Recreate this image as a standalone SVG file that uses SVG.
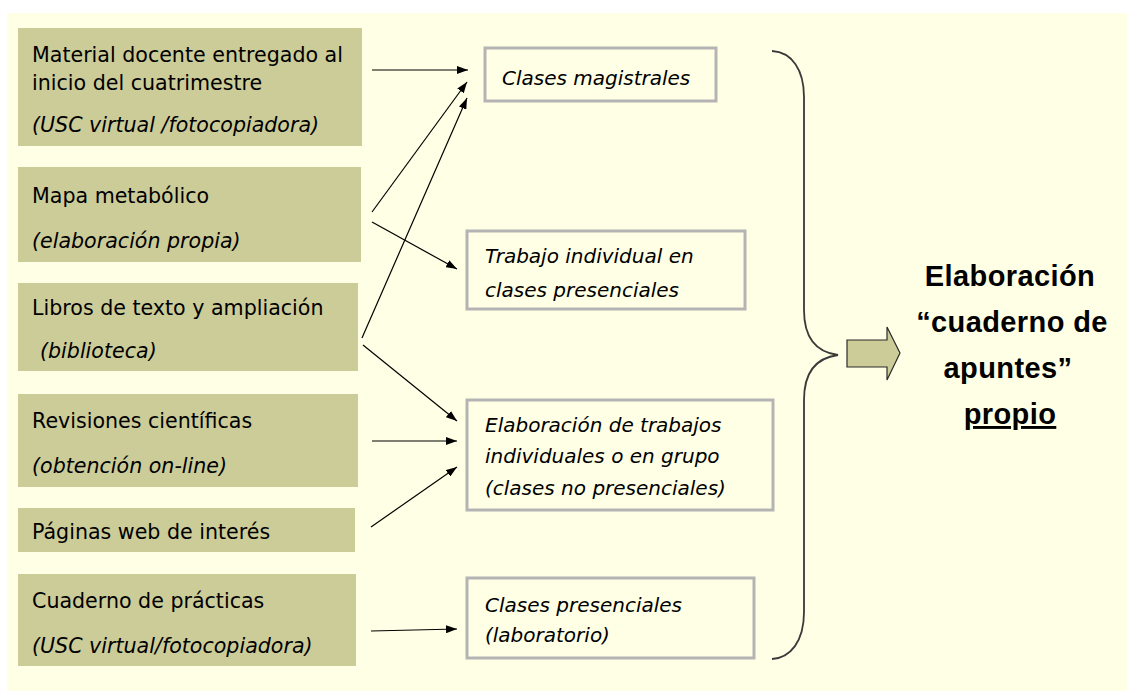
<svg xmlns="http://www.w3.org/2000/svg" width="1127" height="691" viewBox="0 0 1127 691">
<defs>
<style>
.src{fill:#CCCC99}
.dst{fill:#FFFFE5;stroke:#B4B4B4;stroke-width:3}
.t{font-family:"DejaVu Sans",Verdana,sans-serif;font-size:20px;fill:#000}
.l{font-size:20.6px}
.i{font-style:italic}
.big{font-family:"Liberation Sans",Arial,sans-serif;font-size:29px;font-weight:bold;fill:#000;text-anchor:middle;letter-spacing:0.4px}
.c{stroke:#000;stroke-width:1.2;fill:none;marker-end:url(#ah)}
</style>
<marker id="ah" markerUnits="userSpaceOnUse" markerWidth="11" markerHeight="8" refX="11" refY="4" orient="auto">
<path d="M0,0 L11,4 L0,8 z" fill="#000"/>
</marker>
</defs>
<rect x="0" y="0" width="1127" height="691" fill="#FFFFFF"/>
<rect x="7" y="13" width="1120" height="678" fill="#FFFFE5"/>

<g id="n-material">
<rect class="src" x="18" y="28" width="344" height="118"/>
<text class="t l" x="32" y="62">Material docente entregado al</text>
<text class="t l" x="32" y="90">inicio del cuatrimestre</text>
<text class="t l i" x="32" y="132">(USC virtual /fotocopiadora)</text>
</g>
<g id="n-mapa">
<rect class="src" x="18" y="167" width="343" height="95"/>
<text class="t l" x="32" y="203">Mapa metabólico</text>
<text class="t l i" x="32" y="248">(elaboración propia)</text>
</g>
<g id="n-libros">
<rect class="src" x="18" y="283" width="340" height="88"/>
<text class="t l" x="32" y="315">Libros de texto y ampliación</text>
<text class="t l i" x="40" y="358">(biblioteca)</text>
</g>
<g id="n-revisiones">
<rect class="src" x="18" y="394" width="340" height="93"/>
<text class="t l" x="32" y="428">Revisiones científicas</text>
<text class="t l i" x="32" y="473">(obtención on-line)</text>
</g>
<g id="n-paginas">
<rect class="src" x="18" y="508" width="337" height="44"/>
<text class="t l" x="32" y="539">Páginas web de interés</text>
</g>
<g id="n-cuaderno">
<rect class="src" x="18" y="574" width="338" height="92"/>
<text class="t l" x="32" y="608">Cuaderno de prácticas</text>
<text class="t l i" x="32" y="653">(USC virtual/fotocopiadora)</text>
</g>

<g id="n-magistrales">
<rect class="dst" x="485" y="48" width="231" height="53"/>
<text class="t i" x="502" y="85">Clases magistrales</text>
</g>
<g id="n-trabajo">
<rect class="dst" x="467" y="231" width="278" height="78"/>
<text class="t i" x="485" y="263">Trabajo individual en</text>
<text class="t i" x="485" y="297">clases presenciales</text>
</g>
<g id="n-elaboracion">
<rect class="dst" x="467" y="400" width="306" height="110"/>
<text class="t i" x="485" y="432">Elaboración de trabajos</text>
<text class="t i" x="485" y="463">individuales o en grupo</text>
<text class="t i" x="485" y="495">(clases no presenciales)</text>
</g>
<g id="n-laboratorio">
<rect class="dst" x="467" y="578" width="287" height="80"/>
<text class="t i" x="485" y="612">Clases presenciales</text>
<text class="t i" x="485" y="642">(laboratorio)</text>
</g>

<g id="connectors">
<line class="c" x1="372" y1="70" x2="468" y2="70"/>
<line class="c" x1="372" y1="212" x2="467" y2="82"/>
<line class="c" x1="362" y1="338" x2="467" y2="98"/>
<line class="c" x1="372" y1="222" x2="457" y2="269"/>
<line class="c" x1="363" y1="345" x2="457" y2="421"/>
<line class="c" x1="372" y1="441" x2="457" y2="441"/>
<line class="c" x1="371" y1="527" x2="457" y2="467"/>
<line class="c" x1="371" y1="631" x2="457" y2="629"/>
</g>

<g id="brace">
<path d="M772,51 C792,52 804,70 804,97 L804,310 C804,337 815,352 838,355 C815,358 804,373 804,400 L804,612 C804,642 790,658 772,659" fill="none" stroke="#3A3A3A" stroke-width="1.8"/>
</g>
<g id="block-arrow">
<polygon points="847,340 887,340 887,327 900,353 887,380 887,367 847,367" fill="#CCCC99" stroke="#2A2A2A" stroke-width="1.2"/>
</g>
<g id="n-result">
<text class="big" x="1010" y="286">Elaboración</text>
<text class="big" x="1012" y="332">“cuaderno de</text>
<text class="big" x="1008" y="378">apuntes”</text>
<text class="big" x="1010" y="424" text-decoration="underline">propio</text>
</g>
</svg>
